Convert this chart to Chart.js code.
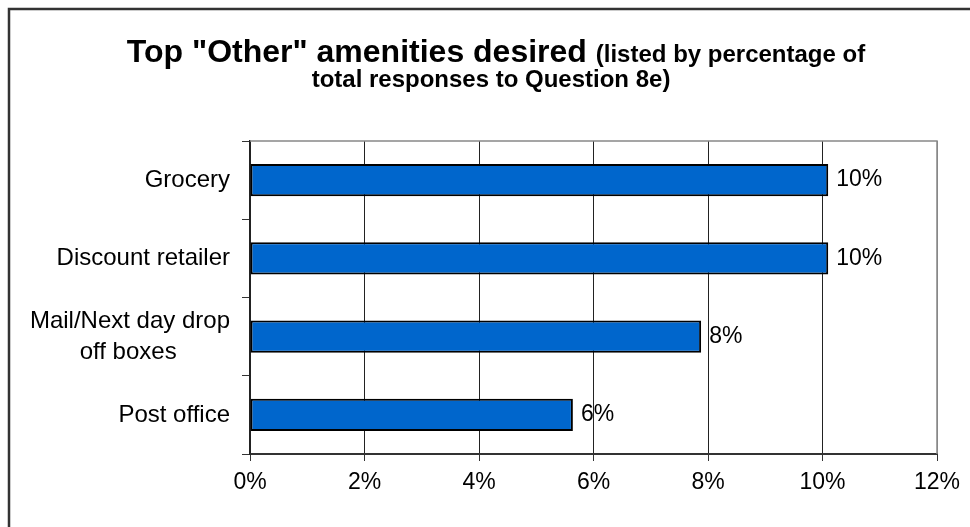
<!DOCTYPE html>
<html>
<head>
<meta charset="utf-8">
<script src="https://cdn.jsdelivr.net/npm/chart.js@4.4.1/dist/chart.umd.min.js"></script>
<style>
  body { margin: 0; background: #fff; }
  #wrap { width: 970px; height: 527px; }
</style>
</head>
<body>
<div id="wrap"><canvas id="amenities-chart"></canvas></div>
<script>
// Chart data
var categories = ['Grocery', 'Discount retailer', ['Mail/Next day drop', 'off boxes\u00a0\u00a0\u00a0\u00a0\u00a0\u00a0\u00a0\u00a0'], 'Post office'];
var shares = [10.1, 10.1, 7.88, 5.64];   // percent of total responses
var tickValues = [0, 2, 4, 6, 8, 10, 12];

var FONT = '"Liberation Sans", Arial, sans-serif';

// white background + outer frame + two-size title
var framePlugin = {
  id: 'frame',
  beforeDraw: function(chart) {
    var c = chart.ctx;
    c.save();
    c.fillStyle = '#fff';
    c.fillRect(0, 0, chart.width, chart.height);
    c.strokeStyle = '#333';
    c.lineWidth = 2.5;
    c.beginPath();
    c.moveTo(9, chart.height);
    c.lineTo(9, 9);
    c.lineTo(chart.width, 9);
    c.stroke();

    var big = 'bold 32px ' + FONT, small = 'bold 24px ' + FONT;
    var part1 = 'Top "Other" amenities desired ';
    var part2 = '(listed by percentage of';
    c.fillStyle = '#000';
    c.textBaseline = 'alphabetic';
    c.textAlign = 'left';
    c.font = big;
    var w1 = c.measureText(part1).width;
    c.font = small;
    var w2 = c.measureText(part2).width;
    var cx = 496;
    var x0 = cx - (w1 + w2) / 2;
    c.font = big;
    c.fillText(part1, x0, 62);
    c.font = small;
    c.fillText(part2, x0 + w1, 62);
    c.textAlign = 'center';
    c.fillText('total responses to Question 8e)', 491, 87);
    c.restore();
  },
  beforeDatasetsDraw: function(chart) {
    var a = chart.chartArea, c = chart.ctx;
    c.save();
    c.strokeStyle = '#888';
    c.lineWidth = 1.5;
    c.beginPath();
    c.moveTo(a.left, a.top);
    c.lineTo(a.right, a.top);
    c.lineTo(a.right, a.bottom);
    c.stroke();
    c.restore();
  }
};

// value labels at the end of each bar
var valueLabels = {
  id: 'valueLabels',
  afterDatasetsDraw: function(chart) {
    var c = chart.ctx;
    var meta = chart.getDatasetMeta(0);
    c.save();
    c.font = '23px ' + FONT;
    c.fillStyle = '#000';
    c.textAlign = 'left';
    c.textBaseline = 'middle';
    meta.data.forEach(function(bar, i) {
      c.fillText(Math.round(shares[i]) + '%', bar.x + 8, bar.y);
    });
    c.restore();
  }
};

var ctx = document.getElementById('amenities-chart').getContext('2d');
var myChart = new Chart(ctx, {
  type: 'bar',
  data: {
    labels: categories,
    datasets: [{
      data: shares,
      backgroundColor: '#0066CC',
      borderColor: '#000',
      borderWidth: 2,
      borderSkipped: false,
      barPercentage: 0.41,
      categoryPercentage: 1
    }]
  },
  plugins: [framePlugin, valueLabels],
  options: {
    indexAxis: 'y',
    responsive: true,
    maintainAspectRatio: false,
    animation: false,
    layout: { padding: { left: 0, top: 141, right: 33, bottom: 23 } },
    scales: {
      x: {
        min: 0,
        max: 12,
        afterBuildTicks: function(scale) {
          scale.ticks = tickValues.map(function(v) { return { value: v }; });
        },
        afterFit: function(scale) { scale.height = 50; },
        grid: {
          color: function(c) { return c.tick && c.tick.value === 12 ? '#888' : '#222'; },
          tickColor: '#333',
          lineWidth: 1,
          tickLength: 7
        },
        border: { color: '#333', width: 2 },
        ticks: {
          color: '#000',
          padding: 8,
          maxRotation: 0,
          font: { family: FONT, size: 23 },
          callback: function(v) { return v + '%'; }
        }
      },
      y: {
        afterFit: function(scale) { scale.width = 250; },
        grid: {
          drawOnChartArea: false,
          tickLength: 8,
          tickColor: '#333'
        },
        border: { color: '#222', width: 1.5 },
        ticks: {
          color: '#000',
          padding: 12,
          font: { family: FONT, size: 24, lineHeight: 1.3 }
        }
      }
    },
    plugins: {
      legend: { display: false },
      tooltip: { enabled: false }
    }
  }
});
</script>
</body>
</html>
